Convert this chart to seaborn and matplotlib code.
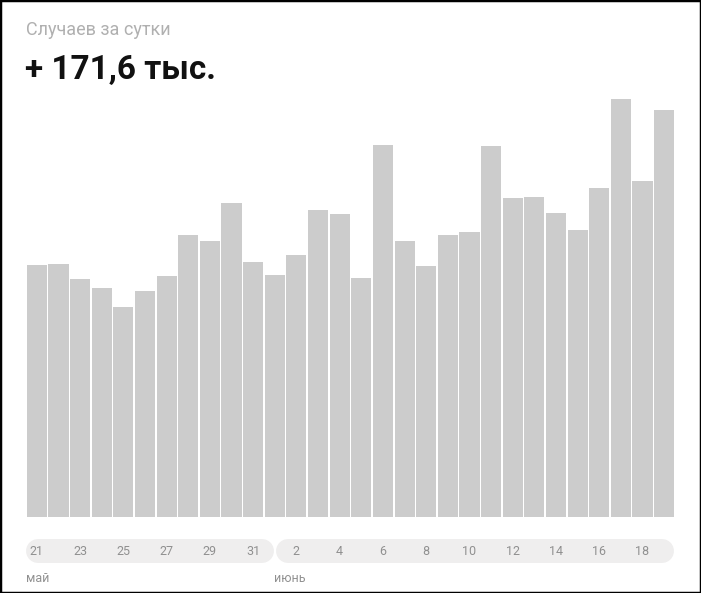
import numpy as np
import pandas as pd
import matplotlib
matplotlib.use("Agg")
import matplotlib.pyplot as plt
import matplotlib.transforms as mtransforms
from matplotlib.patches import Rectangle
import seaborn as sns

# Данные: новые случаи за сутки, тыс.
may_days = [21, 22, 23, 24, 25, 26, 27, 28, 29, 30, 31]
june_days = list(range(1, 20))
cases = [106.2, 106.7, 100.3, 96.5, 88.5, 95.3, 101.6, 118.9, 116.4, 132.4, 107.5,
         102.0, 110.5, 129.4, 127.7, 100.8, 156.8, 116.4, 105.8, 118.9, 120.2,
         156.4, 134.5, 134.9, 128.2, 121.0, 138.7, 176.2, 141.7, 171.6]
month_names = ["май", "июнь"]
subtitle = "Случаев за сутки"
headline = "+ 171,6 тыс."

sns.set_style("white")
plt.rcParams['font.family'] = ['Roboto', 'DejaVu Sans']

days = may_days + june_days
df = pd.DataFrame({"idx": np.arange(len(days)), "day": days, "cases": cases})

W, H, DPI = 701, 593, 100
fig = plt.figure(figsize=(W / DPI, H / DPI), dpi=DPI)

left, right = 26 / W, 675 / W
ax = fig.add_axes([left, 1 - 517 / H, right - left, (517 - 90) / H])
sns.barplot(data=df, x="idx", y="cases", color="#cccccc", saturation=1,
            width=0.93, linewidth=0, ax=ax, native_scale=True)
ax.set_xlim(-0.5, len(days) - 0.5)
ax.set_ylim(0, 180)
ax.axis("off")

# шкала дат в виде "таблеток"
ax2 = fig.add_axes([left, 1 - 563 / H, right - left, 24 / H])
ax2.set_xlim(-0.5, len(days) - 0.5)
ax2.set_ylim(-1, 1)
ax2.axis("off")
lw = 24 * 72 / DPI
cap = 12 / 21.63
n_may = len(may_days)
ax2.plot([-0.5 + cap, n_may - cap - 0.04], [0, 0], color="#efeeee",
         lw=lw, solid_capstyle="round")
ax2.plot([n_may + cap + 0.04, len(days) - 0.5 - cap - 0.05], [0, 0], color="#efeeee",
         lw=lw, solid_capstyle="round")
for i, d in enumerate(days):
    if (i < n_may and d % 2 == 1) or (i >= n_may and d % 2 == 0):
        ax2.text(i, -0.05, str(d), ha="center", va="center", fontsize=9,
                 color="#909090")

trans = mtransforms.blended_transform_factory(ax.transData, fig.transFigure)
ax.text(-0.5, 1 - 578 / H, month_names[0], transform=trans, ha="left",
        va="center", fontsize=9, color="#909090")
ax.text(n_may - 0.05, 1 - 578 / H, month_names[1], transform=trans, ha="left",
        va="center", fontsize=9, color="#909090")

fig.text(26 / W, 1 - 30 / H, subtitle, ha="left", va="center", fontsize=13,
         color="#b0b0b0")
fig.text(25 / W, 1 - 70 / H, headline, ha="left", va="center", fontsize=24,
         fontweight="bold", color="#111111")

fig.patches.append(Rectangle((0, 0), 1, 1, transform=fig.transFigure,
                             fill=False, edgecolor="black", lw=2.5))

fig.savefig("out.png", dpi=DPI)
